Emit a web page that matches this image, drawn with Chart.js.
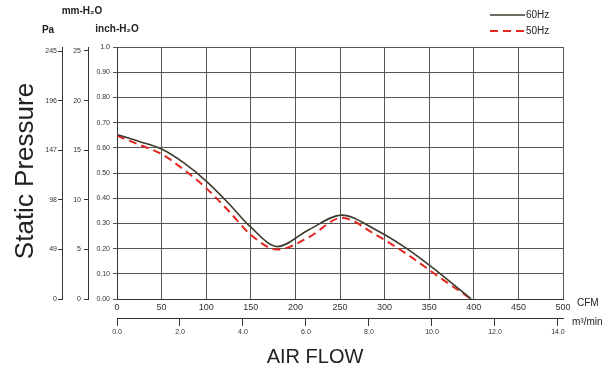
<!DOCTYPE html>
<html>
<head>
<meta charset="utf-8">
<script src="https://cdn.jsdelivr.net/npm/chart.js@4/dist/chart.umd.min.js"></script>
<style>
  html, body { margin: 0; padding: 0; background: #fff; }
  #wrap { width: 612px; height: 372px; position: relative; }
</style>
</head>
<body>
<div id="wrap"><canvas id="chart"></canvas></div>
<script>
// air flow (CFM) where the curves were read
const flow = [0, 25, 50, 75, 100, 125, 150, 180, 215, 252, 290, 325, 360, 397];
// static pressure, inch-H2O
const p60 = [0.653, 0.625, 0.595, 0.54, 0.468, 0.38, 0.285, 0.208, 0.275, 0.333, 0.275, 0.2, 0.107, 0.0];
const p50 = [0.648, 0.612, 0.575, 0.513, 0.44, 0.35, 0.255, 0.196, 0.245, 0.322, 0.255, 0.178, 0.09, 0.0];

const cfmTicks = [0, 50, 100, 150, 200, 250, 300, 350, 400, 450, 500];
const m3Ticks = [0, 2, 4, 6, 8, 10, 12, 14];
const paTicks = [0, 49, 98, 147, 196, 245];
const mmTicks = [0, 5, 10, 15, 20, 25];

const seriesNames = ['60Hz', '50Hz'];

const fam = "'Liberation Sans Narrow', 'Liberation Sans', Arial, sans-serif";
const ink = '#333';
const gridCol = '#555';

function setTicks(list) {
  return function (scale) { scale.ticks = list.map(v => ({ value: v })); };
}

const textPlugin = {
  id: 'texts',
  afterDraw(chart) {
    const ctx = chart.ctx;
    ctx.save();
    ctx.fillStyle = '#222';
    // axis titles
    ctx.font = "26px 'Liberation Sans', Arial, sans-serif";
    ctx.textAlign = 'center';
    ctx.textBaseline = 'middle';
    ctx.save();
    ctx.translate(26, 171);
    ctx.rotate(-Math.PI / 2);
    ctx.fillText('Static Pressure', 0, 0);
    ctx.restore();
    ctx.font = "20px 'Liberation Sans', Arial, sans-serif";
    ctx.fillText('AIR FLOW', 315, 357);

    // unit headers
    ctx.font = "bold 10px " + fam;
    ctx.fillText('Pa', 48, 30);
    ctx.fillText('mm-H\u2082O', 82, 11);
    ctx.fillText('inch-H\u2082O', 117, 29);
    ctx.font = "10px " + fam;
    ctx.textAlign = 'left';
    ctx.fillText('CFM', 577, 303);
    ctx.fillText('m\u00b3/min', 572, 322);

    // legend
    const ds = chart.data.datasets;
    const rows = [15, 31];
    ds.forEach((d, i) => {
      ctx.beginPath();
      ctx.strokeStyle = d.borderColor;
      ctx.lineWidth = d.borderWidth;
      ctx.setLineDash(d.borderDash || []);
      ctx.moveTo(490, rows[i]);
      ctx.lineTo(525, rows[i]);
      ctx.stroke();
      ctx.setLineDash([]);
      ctx.fillStyle = '#222';
      ctx.font = "10px " + fam;
      ctx.fillText(d.label, 526, rows[i]);
    });
    ctx.restore();
  }
};

new Chart(document.getElementById('chart'), {
  type: 'line',
  data: {
    datasets: [
      {
        label: seriesNames[0],
        data: flow.map((x, i) => ({ x: x, y: p60[i] })),
        borderColor: '#3b3a2c',
        borderWidth: 1.6,
        pointRadius: 0,
        cubicInterpolationMode: 'monotone',
        xAxisID: 'x',
        yAxisID: 'yIn',
      },
      {
        label: seriesNames[1],
        data: flow.map((x, i) => ({ x: x, y: p50[i] })),
        borderColor: '#e3261f',
        borderWidth: 2,
        borderDash: [8, 5],
        pointRadius: 0,
        cubicInterpolationMode: 'monotone',
        xAxisID: 'x',
        yAxisID: 'yIn',
      },
    ],
  },
  options: {
    responsive: true,
    maintainAspectRatio: false,
    animation: false,
    layout: { padding: { top: 47, right: 49, left: 0, bottom: 0 } },
    plugins: {
      legend: { display: false },
      tooltip: { enabled: false },
    },
    scales: {
      x: {
        type: 'linear',
        position: 'bottom',
        weight: 0,
        min: 0,
        max: 500,
        afterBuildTicks: setTicks(cfmTicks),
        afterFit: s => { s.height = 19; },
        grid: { color: gridCol, lineWidth: 1, drawTicks: false },
        border: { color: ink, width: 1 },
        ticks: { color: ink, font: { family: fam, size: 9 }, padding: 3, maxRotation: 0 },
      },
      x2: {
        type: 'linear',
        position: 'bottom',
        weight: 1,
        min: 0,
        max: 500 / 35.31,
        afterBuildTicks: setTicks(m3Ticks),
        afterFit: s => { s.height = 54; },
        grid: { drawOnChartArea: false, color: ink, tickLength: 8 },
        border: { color: ink, width: 1 },
        ticks: { color: ink, font: { family: fam, size: 7 }, padding: 2, maxRotation: 0,
          callback: v => v.toFixed(1) },
      },
      yPa: {
        type: 'linear',
        position: 'left',
        weight: 3,
        min: 0,
        max: 249,
        afterBuildTicks: setTicks(paTicks),
        afterFit: s => { s.width = 62; },
        grid: { drawOnChartArea: false, color: ink, tickLength: 4 },
        border: { color: ink, width: 1 },
        ticks: { color: ink, font: { family: fam, size: 7 }, padding: 1 },
      },
      yMm: {
        type: 'linear',
        position: 'left',
        weight: 2,
        min: 0,
        max: 25.4,
        afterBuildTicks: setTicks(mmTicks),
        afterFit: s => { s.width = 26; },
        grid: { drawOnChartArea: false, color: ink, tickLength: 4 },
        border: { color: ink, width: 1 },
        ticks: { color: ink, font: { family: fam, size: 7 }, padding: 3 },
      },
      yIn: {
        type: 'linear',
        position: 'left',
        weight: 1,
        min: 0,
        max: 1,
        afterFit: s => { s.width = 29; },
        grid: { color: gridCol, lineWidth: 1, tickLength: 4 },
        border: { color: ink, width: 1 },
        ticks: { color: ink, font: { family: fam, size: 7 }, padding: 3, stepSize: 0.1,
          callback: v => (Math.abs(v - 1) < 1e-9 ? '1.0' : v.toFixed(2)) },
      },
    },
  },
  plugins: [textPlugin],
});
</script>
</body>
</html>
